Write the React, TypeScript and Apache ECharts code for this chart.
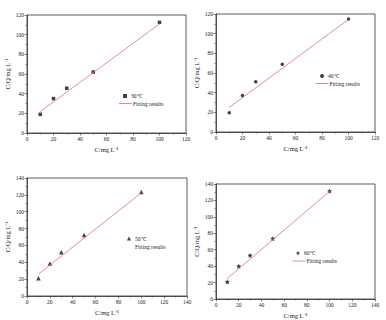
import React, { useEffect, useRef } from "react";
import * as echarts from "echarts";

// Measured concentrations (C, mg/L) shared by all four temperatures
const concentrations = [10, 20, 30, 50, 100];

// C/Q values at each temperature
const ratio30 = [19, 35, 45.5, 62, 112.5];
const ratio40 = [19.5, 37, 51, 69, 115];
const ratio50 = [21, 38.5, 52, 72.5, 123.5];
const ratio60 = [21, 40, 53, 73.5, 131.5];

// End points of the fitted lines
const fitX = [10, 100];
const fit30 = [21.8, 111];
const fit40 = [25, 114.5];
const fit50 = [26, 122.3];
const fit60 = [25, 131];

const temperatures = ["30℃", "40℃", "50℃", "60℃"];
const fitName = "Fitting results";

const axisMax = [120, 120, 140, 140];

const FONT = "Liberation Serif";
const AXIS = "#333";
const FIT = "#e0707a";

const STAR5 =
  "path://M0,-10 L2.9,-4 L9.5,-3.1 L4.7,1.5 L5.9,8.1 L0,5 L-5.9,8.1 L-4.7,1.5 L-9.5,-3.1 L-2.9,-4 Z";

export default function App() {
  const ref = useRef<HTMLDivElement>(null);

  useEffect(() => {
    if (!ref.current) return;
    const chart = echarts.init(ref.current, undefined, { renderer: "svg" });

    const grids = [
      { left: 27, top: 15, width: 159, height: 118 },
      { left: 216, top: 14, width: 159, height: 118 },
      { left: 27, top: 178, width: 160, height: 118 },
      { left: 216, top: 184, width: 159, height: 118 },
    ].map((g) => ({
      ...g,
      show: true,
      borderColor: AXIS,
      borderWidth: 0.8,
      backgroundColor: "transparent",
    }));

    const axisCommon = {
      min: 0,
      interval: 20,
      axisLine: { show: true, lineStyle: { color: AXIS, width: 0.8 } },
      axisTick: { show: true, length: 2.5, lineStyle: { color: AXIS, width: 0.6 } },
      minorTick: { show: true, splitNumber: 2, length: 1.5, lineStyle: { color: AXIS, width: 0.5 } },
      splitLine: { show: false },
      axisLabel: { fontFamily: FONT, fontSize: 5.5, color: "#222", margin: 3 },
      nameTextStyle: { fontFamily: FONT, fontSize: 6.5, color: "#222" },
    };

    const xAxis = axisMax.map((max, i) => ({
      ...axisCommon,
      type: "value",
      gridIndex: i,
      max,
      name: "C/mg L⁻¹",
      nameLocation: "middle",
      nameGap: 13,
    }));

    const yAxis = axisMax.map((max, i) => ({
      ...axisCommon,
      type: "value",
      gridIndex: i,
      max,
      name: "C/Q/mg L⁻¹",
      nameLocation: "middle",
      nameGap: 16,
    }));

    const ratios = [ratio30, ratio40, ratio50, ratio60];
    const fits = [fit30, fit40, fit50, fit60];
    const symbols = ["rect", "circle", "triangle", STAR5];
    const sizes = [3.5, 3.5, 4.5, 5];

    const series: any[] = [];
    ratios.forEach((vals, i) => {
      series.push({
        type: "scatter",
        name: temperatures[i],
        xAxisIndex: i,
        yAxisIndex: i,
        symbol: symbols[i],
        symbolSize: sizes[i],
        itemStyle: { color: "#111" },
        data: concentrations.map((c, k) => [c, vals[k]]),
      });
      series.push({
        type: "line",
        name: fitName,
        xAxisIndex: i,
        yAxisIndex: i,
        symbol: "none",
        lineStyle: { color: FIT, width: 0.8 },
        itemStyle: { color: FIT },
        data: fitX.map((x, k) => [x, fits[i][k]]),
      });
    });

    const textStyle = { fontFamily: FONT, fontSize: 5.5, color: "#222" };

    // Marker entries: top-left corner of the symbol box
    const markerPos = [
      { left: 123, top: 93 },
      { left: 320, top: 73 },
      { left: 127, top: 235.5 },
      { left: 296, top: 250 },
    ];
    // Line entries: start of the line sample
    const linePos = [
      { left: 119, top: 100.5 },
      { left: 315.5, top: 80.5 },
      { left: 124, top: 243.5 },
      { left: 292.5, top: 258 },
    ];

    const legend: any[] = [];
    markerPos.forEach((p, i) => {
      legend.push({
        ...p,
        itemWidth: 4,
        itemHeight: 4,
        padding: 0,
        selectedMode: false,
        textStyle: { ...textStyle, padding: [0, 0, 0, -1] },
        data: [temperatures[i]],
      });
    });
    linePos.forEach((p, i) => {
      legend.push({
        ...p,
        itemWidth: i === 2 ? 10 : 13,
        itemHeight: 5,
        padding: 0,
        selectedMode: false,
        textStyle: { ...textStyle, padding: [0, 0, 0, -4] },
        data: [
          i === 2
            ? { name: fitName, icon: "none" }
            : { name: fitName, icon: "path://M0,4.6 L13,4.6 L13,5.4 L0,5.4 Z" },
        ],
      });
    });

    chart.setOption({
      animation: false,
      backgroundColor: "#fff",
      grid: grids,
      xAxis,
      yAxis,
      legend,
      series,
    });

    return () => chart.dispose();
  }, []);

  return (
    <div
      ref={ref}
      style={{ position: "fixed", left: 0, top: 0, width: 386, height: 320 }}
    />
  );
}
